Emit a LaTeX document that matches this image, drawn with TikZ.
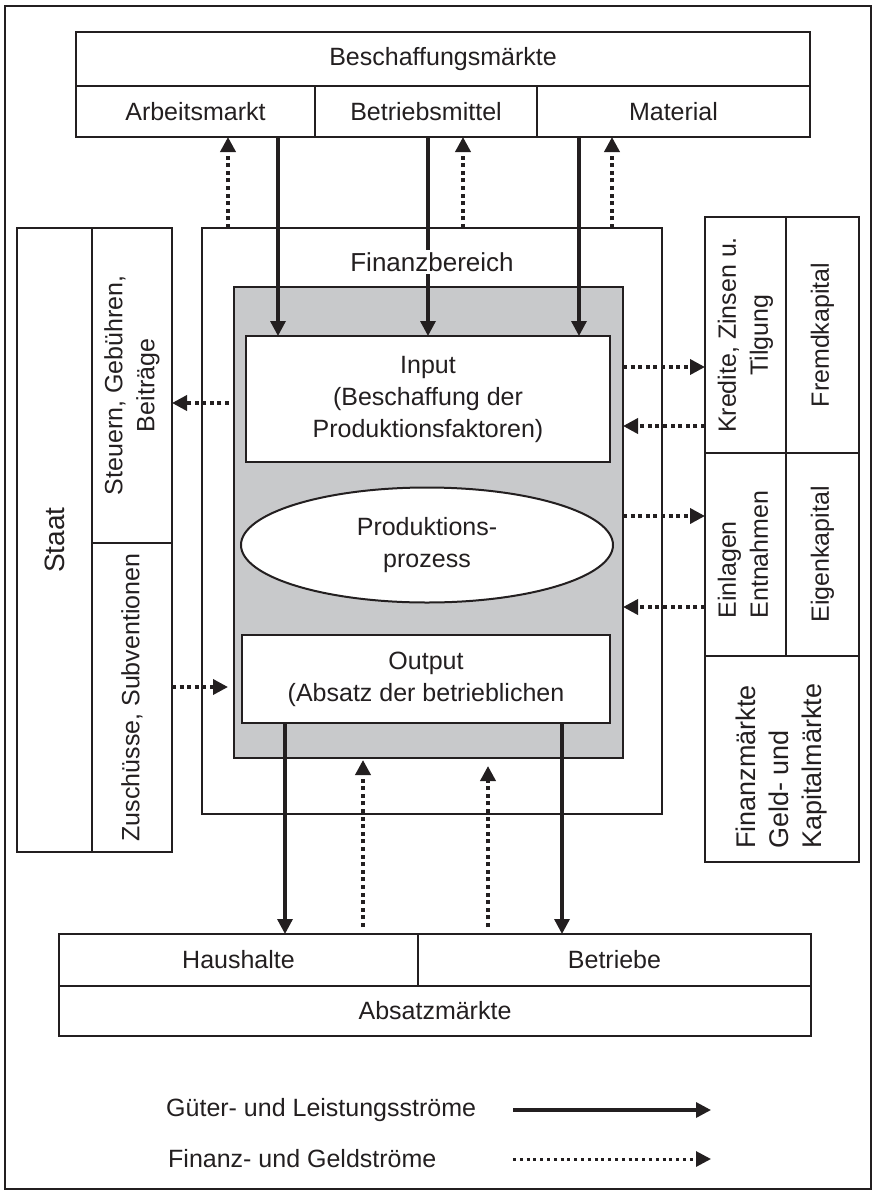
\documentclass[tikz,border=0pt]{standalone}
\usepackage{fontspec}
\setmainfont{Liberation Sans}
\usepackage{tikz}
\usetikzlibrary{arrows.meta, shapes.geometric, positioning}
\definecolor{inkcolor}{RGB}{35,31,32}
\definecolor{processcolor}{RGB}{200,201,203}

\begin{document}
\begin{tikzpicture}[
    x=1pt, y=-1pt,
    every node/.style={text=inkcolor},
    cell/.style={draw=inkcolor, line width=2pt, inner sep=0pt, outer sep=0pt, align=center, font=\fontsize{25}{32}\selectfont},
    bigcell/.style={cell, font=\fontsize{27}{33}\selectfont},
    goods/.style={draw=inkcolor, line width=3.3pt, -{Triangle[length=15pt,width=15pt]}},
    money/.style={draw=inkcolor, line width=3.6pt, dash pattern=on 4pt off 3.6pt, -{Triangle[length=15pt,width=15pt]}},
    legendtext/.style={anchor=west, inner sep=0pt, font=\fontsize{25}{30}\selectfont}
]
    \useasboundingbox (0,0) rectangle (876,1192);
    \node[draw=inkcolor, line width=2pt, minimum width=866, minimum height=1183, inner sep=0pt] (frame) at (438,597.5) {};

    % Beschaffungsmaerkte
    \node[cell, minimum width=734, minimum height=54] (beschaffung) at (443,59) {Beschaffungsmärkte};
    \node[cell, minimum width=239, minimum height=51] (arbeit) at (195.5,111.5) {Arbeitsmarkt};
    \node[cell, minimum width=222, minimum height=51] (betrieb) at (426,111.5) {Betriebsmittel};
    \node[cell, minimum width=273, minimum height=51] (material) at (673.5,111.5) {Material};

    % Staat
    \node[bigcell, font=\fontsize{28}{33}\selectfont, rotate=90, minimum width=624, minimum height=75] (staat) at (54.5,540) {Staat};
    \node[cell, rotate=90, minimum width=315, minimum height=80] (steuern) at (132,385.5) {Steuern, Gebühren,\\Beiträge};
    \node[cell, rotate=90, minimum width=309, minimum height=80] (zuschuss) at (132,697.5) {Zuschüsse, Subventionen};

    % Unternehmen
    \node[cell, minimum width=460, minimum height=586] (finanz) at (432,521) {};
    \node[cell, fill=processcolor, minimum width=389, minimum height=471] (prozess) at (428.5,522.5) {};
    \node[cell, fill=white, minimum width=364, minimum height=126] (input) at (428,399) {Input\\(Beschaffung der\\Produktionsfaktoren)};
    \node[cell, ellipse, fill=white, minimum width=372, minimum height=115] (produktion) at (427,545) {Produktions-\\prozess};
    \node[cell, fill=white, minimum width=368, minimum height=88] (output) at (426,679) {Output\\(Absatz der betrieblichen};

    % Finanzmaerkte
    \node[cell, rotate=90, minimum width=236, minimum height=81] (kredite) at (745.5,335) {Kredite, Zinsen u.\\Tilgung};
    \node[cell, rotate=90, minimum width=236, minimum height=73] (fremd) at (822.5,335) {Fremdkapital};
    \node[cell, rotate=90, minimum width=203, minimum height=81] (einlagen) at (745.5,554.5) {\begin{tabular}{@{}l@{}}Einlagen\\Entnahmen\end{tabular}};
    \node[cell, rotate=90, minimum width=203, minimum height=73] (eigen) at (822.5,554.5) {Eigenkapital};
    \node[bigcell, rotate=90, minimum width=206, minimum height=154] (finmarkt) at (782,759) {\begin{tabular}{@{}l@{\hspace{14pt}}}Finanzmärkte\\Geld- und\\Kapitalmärkte\end{tabular}};

    % Absatzmaerkte
    \node[cell, minimum width=359, minimum height=52] (haushalte) at (238.5,960) {Haushalte};
    \node[cell, minimum width=393, minimum height=52] (betriebe) at (614.5,960) {Betriebe};
    \node[cell, minimum width=752, minimum height=50] (absatz) at (435,1011) {Absatzmärkte};

    % Positions of the flows
    \coordinate (g1) at (278,0);
    \coordinate (g2) at (428,0);
    \coordinate (g3) at (579,0);
    \coordinate (g4) at (285,0);
    \coordinate (g5) at (562,0);
    \coordinate (m1) at (228,0);
    \coordinate (m2) at (463,0);
    \coordinate (m3) at (612,0);
    \coordinate (m4) at (363,0);
    \coordinate (m5) at (488,0);
    \coordinate (l1) at (0,403);
    \coordinate (l2) at (0,687);
    \coordinate (r1) at (0,367);
    \coordinate (r2) at (0,426);
    \coordinate (r3) at (0,516);
    \coordinate (r4) at (0,607);

    % Gueterstroeme
    \draw[goods] (arbeit.south -| g1) -- (input.north -| g1);
    \draw[goods] (betrieb.south -| g2) -- (input.north -| g2);
    \draw[goods] (material.south -| g3) -- (input.north -| g3);
    \draw[goods] (output.south -| g4) -- (haushalte.north -| g4);
    \draw[goods] (output.south -| g5) -- (betriebe.north -| g5);

    % Finanzstroeme
    \draw[money] (finanz.north -| m1) -- (arbeit.south -| m1);
    \draw[money] (finanz.north -| m2) -- (betrieb.south -| m2);
    \draw[money] (finanz.north -| m3) -- (material.south -| m3);
    \draw[money, shorten <=7pt, shorten >=2pt] (haushalte.north -| m4) -- (prozess.south -| m4);
    \draw[money, shorten <=7pt, shorten >=8pt] (betriebe.north -| m5) -- (prozess.south -| m5);
    \draw[money, shorten <=5pt] (prozess.west |- l1) -- (steuern.south |- l1);
    \draw[money, shorten >=6pt] (zuschuss.south |- l2) -- (prozess.west |- l2);
    \draw[money] (prozess.east |- r1) -- (kredite.north |- r1);
    \draw[money] (kredite.north |- r2) -- (prozess.east |- r2);
    \draw[money] (prozess.east |- r3) -- (einlagen.north |- r3);
    \draw[money] (einlagen.north |- r4) -- (prozess.east |- r4);

    \node[fill=white, inner sep=2pt, font=\fontsize{26}{30}\selectfont] (finanzlabel) at (432,262) {Finanzbereich};

    % Legende
    \node[legendtext] (leggoods) at (166,1110) {Güter- und Leistungsströme};
    \node[legendtext] (legmoney) at (168,1159) {Finanz- und Geldströme};
    \coordinate (lga) at (513,1110);
    \coordinate (lgb) at (711,1110);
    \coordinate (lma) at (513,1159);
    \coordinate (lmb) at (711,1159);
    \draw[goods] (lga) -- (lgb);
    \draw[money, line width=3pt, dash pattern=on 3pt off 3.8pt] (lma) -- (lmb);
\end{tikzpicture}
\end{document}
